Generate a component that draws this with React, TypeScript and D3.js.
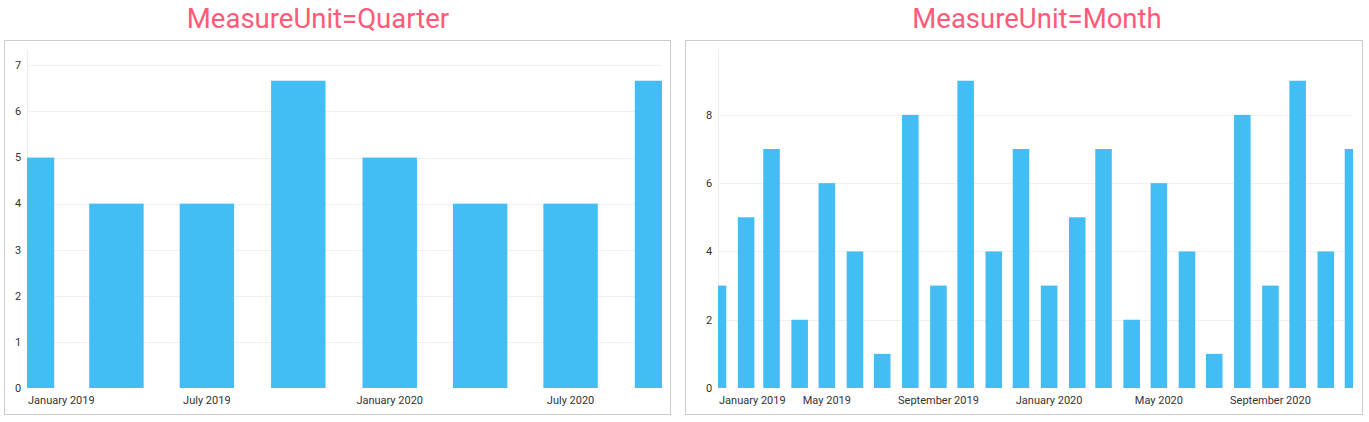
import React, { useEffect, useRef } from "react";
import * as d3 from "d3";

const quarterDates = ["2019-01-01", "2019-04-01", "2019-07-01", "2019-10-01", "2020-01-01", "2020-04-01", "2020-07-01", "2020-10-01"];
const quarterValues = [5, 4, 4, 20 / 3, 5, 4, 4, 20 / 3];
const monthDates = [
  "2019-01-01", "2019-02-01", "2019-03-01", "2019-04-01", "2019-05-01", "2019-06-01",
  "2019-07-01", "2019-08-01", "2019-09-01", "2019-10-01", "2019-11-01", "2019-12-01",
  "2020-01-01", "2020-02-01", "2020-03-01", "2020-04-01", "2020-05-01", "2020-06-01",
  "2020-07-01", "2020-08-01", "2020-09-01", "2020-10-01", "2020-11-01", "2020-12-01",
];
const monthValues = [3, 5, 7, 2, 6, 4, 1, 8, 3, 9, 4, 7, 3, 5, 7, 2, 6, 4, 1, 8, 3, 9, 4, 7];
const quarterTickDates = ["2019-01-01", "2019-07-01", "2020-01-01", "2020-07-01"];
const monthTickDates = ["2019-01-01", "2019-05-01", "2019-09-01", "2020-01-01", "2020-05-01", "2020-09-01"];
const quarterYTicks = [0, 1, 2, 3, 4, 5, 6, 7];
const monthYTicks = [0, 2, 4, 6, 8];
const titles = ["MeasureUnit=Quarter", "MeasureUnit=Month"];

const parse = d3.timeParse("%Y-%m-%d");
const fmt = d3.timeFormat("%B %Y");

type PanelCfg = {
  id: string;
  title: string;
  titleX: number;
  box: [number, number, number, number];
  plot: [number, number, number, number];
  dates: string[];
  values: number[];
  xticks: string[];
  yticks: number[];
  yLabelX: number;
};

function drawPanel(svg: d3.Selection<SVGSVGElement, unknown, null, undefined>, cfg: PanelCfg) {
  const [bx0, by0, bx1, by1] = cfg.box;
  const [px0, py0, px1, py1] = cfg.plot;
  const g = svg.append("g");
  g.append("text")
    .attr("x", cfg.titleX)
    .attr("y", 27.5)
    .attr("text-anchor", "middle")
    .attr("font-family", "Roboto, sans-serif")
    .attr("font-size", 27.5)
    .attr("fill", "#ff5a78")
    .text(cfg.title);
  g.append("rect")
    .attr("x", bx0 + 0.5).attr("y", by0 + 0.5)
    .attr("width", bx1 - bx0).attr("height", by1 - by0)
    .attr("fill", "#fff").attr("stroke", "#cccccc");

  const dates = cfg.dates.map((d) => parse(d) as Date);
  const x = d3.scaleTime().domain([dates[0], dates[dates.length - 1]]).range([px0, px1]);
  const yMax = (d3.max(cfg.values) as number) * 1.1;
  const y = d3.scaleLinear().domain([0, yMax]).range([py1, py0]);

  g.selectAll(".grid").data(cfg.yticks.filter((t) => t > 0)).enter().append("line")
    .attr("x1", px0).attr("x2", px1)
    .attr("y1", (d) => Math.round(y(d)) + 0.5).attr("y2", (d) => Math.round(y(d)) + 0.5)
    .attr("stroke", "#f0f0f0").attr("stroke-width", 1);
  g.append("line").attr("x1", px0 + 0.5).attr("x2", px0 + 0.5).attr("y1", py0).attr("y2", py1)
    .attr("stroke", "#eeeeee");

  const clipId = "clip-" + cfg.id;
  svg.append("defs").append("clipPath").attr("id", clipId).append("rect")
    .attr("x", px0).attr("y", py0 - 5).attr("width", px1 - px0).attr("height", py1 - py0 + 5);

  const bw = ((px1 - px0) / (dates.length - 1)) * 0.6;
  g.append("g").attr("clip-path", `url(#${clipId})`)
    .selectAll("rect").data(cfg.values).enter().append("rect")
    .attr("x", (_d, i) => x(dates[i]) - bw / 2)
    .attr("width", bw)
    .attr("y", (d) => y(d))
    .attr("height", (d) => y(0) - y(d))
    .attr("fill", "#42bef4");

  g.selectAll(".ylab").data(cfg.yticks).enter().append("text")
    .attr("x", cfg.yLabelX).attr("y", (d) => y(d)).attr("dy", "0.35em")
    .attr("text-anchor", "middle")
    .attr("font-family", "Roboto, sans-serif").attr("font-size", 11).attr("fill", "#333")
    .text((d) => String(d));

  cfg.xticks.forEach((t) => {
    const dt = parse(t) as Date;
    const xp = x(dt);
    const txt = g.append("text")
      .attr("x", xp).attr("y", py1 + 15.5)
      .attr("text-anchor", "middle")
      .attr("font-family", "Roboto, sans-serif").attr("font-size", 11).attr("fill", "#333")
      .text(fmt(dt));
    const w = (txt.node() as SVGTextElement).getComputedTextLength();
    if (xp - w / 2 < px0) txt.attr("text-anchor", "start").attr("x", px0 + 1);
    else if (xp + w / 2 > px1) txt.attr("text-anchor", "end").attr("x", px1);
  });
}

export default function App() {
  const ref = useRef<SVGSVGElement>(null);
  useEffect(() => {
    if (!ref.current) return;
    const svg = d3.select(ref.current);
    svg.selectAll("*").remove();
    drawPanel(svg, {
      id: "q", title: titles[0], titleX: 318, box: [4, 40, 670, 414], plot: [27, 50, 662, 388],
      dates: quarterDates, values: quarterValues, xticks: quarterTickDates, yticks: quarterYTicks, yLabelX: 18,
    });
    drawPanel(svg, {
      id: "m", title: titles[1], titleX: 1037, box: [685, 40, 1362, 414], plot: [718, 50, 1353, 388],
      dates: monthDates, values: monthValues, xticks: monthTickDates, yticks: monthYTicks, yLabelX: 709,
    });
  }, []);
  return (
    <div style={{ position: "absolute", left: 0, top: 0 }}>
      <svg ref={ref} width={1369} height={422} style={{ display: "block", background: "#fff" }} />
    </div>
  );
}
